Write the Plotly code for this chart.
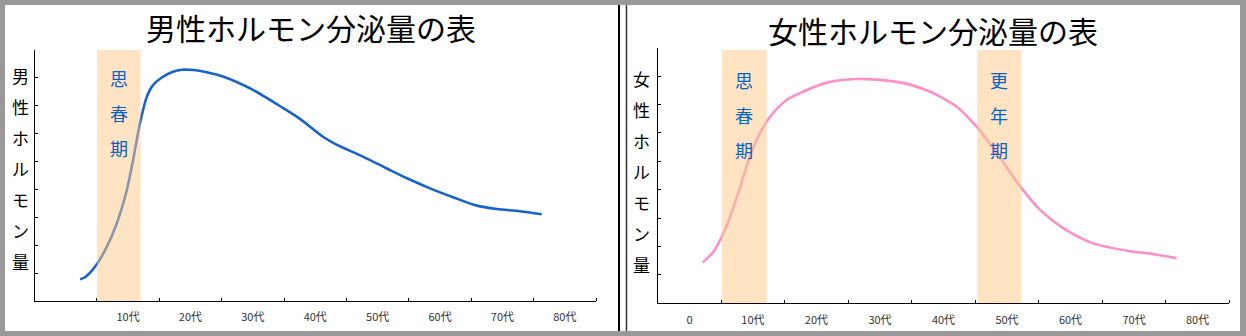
import plotly.graph_objects as go

W, H = 1246, 336
FONT = "Noto Sans CJK JP"

# ---- data (x: age in decades, y: relative hormone level) ----
male_age = [0.73, 0.81, 0.99, 1.16, 1.32, 1.48, 1.58, 1.69, 1.80, 1.90, 2.06, 2.22, 2.36, 2.55,
            2.76, 3.03, 3.51, 3.99, 4.26, 4.63, 4.84, 5.27, 5.64, 5.97, 6.34, 6.71, 7.09, 7.41,
            7.78, 8.13]
male_level = [0.78, 0.85, 1.29, 1.95, 2.79, 3.98, 5.05, 6.37, 7.32, 7.74, 8.04, 8.22, 8.29, 8.28,
              8.20, 8.04, 7.56, 6.91, 6.52, 5.88, 5.61, 5.17, 4.76, 4.40, 4.04, 3.72, 3.42, 3.30,
              3.22, 3.11]

female_age = [0.71, 0.88, 1.01, 1.14, 1.30, 1.45, 1.61, 1.77, 2.03, 2.29, 2.66, 3.13, 3.61, 3.97,
              4.29, 4.50, 4.71, 5.02, 5.34, 5.71, 6.02, 6.39, 6.86, 7.39, 7.81, 8.17]
female_level = [1.44, 1.82, 2.35, 3.05, 4.11, 5.16, 5.99, 6.57, 7.16, 7.45, 7.77, 7.90, 7.84, 7.70,
                7.45, 7.21, 6.92, 6.22, 5.28, 4.11, 3.29, 2.64, 2.11, 1.85, 1.73, 1.59]

male_labels = ["10代", "20代", "30代", "40代", "50代", "60代", "70代", "80代"]
male_label_pos = [1.5, 2.5, 3.5, 4.5, 5.5, 6.5, 7.5, 8.5]
female_labels = ["0", "10代", "20代", "30代", "40代", "50代", "60代", "70代", "80代"]
female_label_pos = [0.5, 1.5, 2.5, 3.5, 4.5, 5.5, 6.5, 7.5, 8.5]
tick_grid = list(range(10))

male_title = "男性ホルモン分泌量の表"
female_title = "女性ホルモン分泌量の表"
male_ylabel = "男性ホルモン量"
female_ylabel = "女性ホルモン量"

male_bands = [("思春期", 1.0, 1.7, 9.1)]
female_bands = [("思春期", 1.01, 1.72, 8.92), ("更年期", 5.03, 5.73, 8.92)]

BLUE = "#1763c9"
PINK = "#ff8fc9"
BAND = "rgba(255,201,137,0.5)"
TEXT_BLUE = "#0763c4"

fig = go.Figure()
fig.add_trace(go.Scatter(x=male_age, y=male_level, mode="lines",
                         line=dict(color=BLUE, width=2.6, shape="spline", smoothing=0.8),
                         xaxis="x", yaxis="y", hoverinfo="skip"))
fig.add_trace(go.Scatter(x=female_age, y=female_level, mode="lines",
                         line=dict(color=PINK, width=2.6, shape="spline", smoothing=0.8),
                         xaxis="x2", yaxis="y2", hoverinfo="skip"))


def xax(dom, pos, labels):
    return dict(domain=dom, range=[0, 9], showline=True, linecolor="black", linewidth=1,
                tickmode="array", tickvals=pos, ticktext=labels, ticks="",
                tickfont=dict(family=FONT, size=11, color="#333333"),
                ticklabelstandoff=6,
                showgrid=False, zeroline=False, fixedrange=True,
                minor=dict(tickmode="array", tickvals=tick_grid, ticks="inside", ticklen=3,
                           tickcolor="black", tickwidth=1, showgrid=False))


def yax(dom):
    return dict(domain=dom, range=[0, 9], showline=True, linecolor="black", linewidth=1,
                tickmode="array", tickvals=tick_grid, ticks="inside", ticklen=3,
                tickcolor="black", showticklabels=False, showgrid=False, zeroline=False,
                fixedrange=True)


fig.update_layout(
    width=W, height=H, margin=dict(l=0, r=0, t=0, b=0),
    paper_bgcolor="#999999", plot_bgcolor="rgba(0,0,0,0)", showlegend=False,
    xaxis=dict(**xax([34.5 / W, 596 / W], male_label_pos, male_labels), anchor="y"),
    yaxis=dict(**yax([1 - 301 / H, 1 - 50 / H]), anchor="x"),
    xaxis2=dict(**xax([657.7 / W, 1229.3 / W], female_label_pos, female_labels), anchor="y2"),
    yaxis2=dict(**yax([1 - 303.3 / H, 1 - 47.7 / H]), anchor="x2"),
)

shapes = [
    dict(type="rect", xref="paper", yref="paper", x0=5 / W, x1=1240 / W, y0=1 - 331 / H, y1=1 - 5 / H,
         fillcolor="white", line=dict(width=0), layer="below"),
    dict(type="line", xref="paper", yref="paper", x0=619 / W, x1=619 / W, y0=1 - 331 / H, y1=1 - 5 / H,
         line=dict(color="black", width=2), layer="below"),
    dict(type="line", xref="paper", yref="paper", x0=626.5 / W, x1=626.5 / W, y0=1 - 331 / H, y1=1 - 5 / H,
         line=dict(color="#333333", width=1.5), layer="below"),
]
annotations = []

for bands, xr, yr in [(male_bands, "x", "y"), (female_bands, "x2", "y2")]:
    for text, x0, x1, top in bands:
        shapes.append(dict(type="rect", xref=xr, yref=yr, x0=x0, x1=x1, y0=0, y1=top,
                           fillcolor=BAND, line=dict(width=0), layer="above"))
        base, step = (8.0, 1.26) if xr == "x" else (7.87, 1.24)
        for i, ch in enumerate(text):
            annotations.append(dict(xref=xr, yref=yr, x=(x0 + x1) / 2, y=base - step * i,
                                    xanchor="center", yanchor="middle",
                                    text=ch, showarrow=False,
                                    font=dict(family=FONT, size=18, color=TEXT_BLUE)))

# titles
annotations.append(dict(xref="paper", yref="paper", x=311 / W, y=1 - 26.5 / H, text=male_title,
                        xanchor="center", yanchor="middle",
                        showarrow=False, font=dict(family=FONT, size=30, color="black")))
annotations.append(dict(xref="paper", yref="paper", x=933 / W, y=1 - 29.5 / H, text=female_title,
                        xanchor="center", yanchor="middle",
                        showarrow=False, font=dict(family=FONT, size=30, color="black")))

# vertical y-axis labels
for label, px, py0 in [(male_ylabel, 20.5, 75), (female_ylabel, 641.7, 78.5)]:
    for i, ch in enumerate(label):
        annotations.append(dict(xref="paper", yref="paper", x=px / W, y=1 - (py0 + 31 * i) / H,
                                xanchor="center", yanchor="middle",
                                text=ch, showarrow=False,
                                font=dict(family=FONT, size=17, color="black")))

fig.update_layout(shapes=shapes, annotations=annotations)
fig.write_html("out.html")
